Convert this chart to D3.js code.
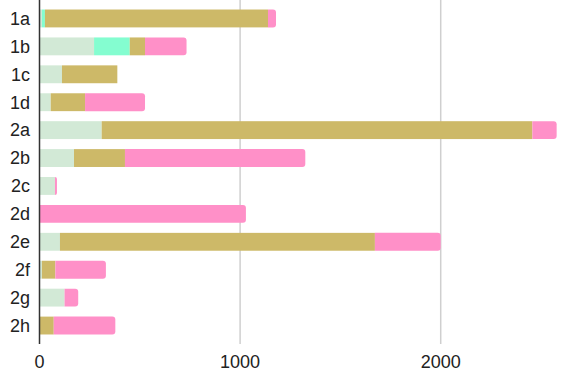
<!DOCTYPE html>
<html><head><meta charset="utf-8">
<script src="https://cdn.jsdelivr.net/npm/d3@7"></script>
<style>body{margin:0;background:#fff;}svg{display:block;}</style>
</head><body>
<script>
const categories = ["1a","1b","1c","1d","2a","2b","2c","2d","2e","2f","2g","2h"];
const seriesNames = ["s1","s2","s3","s4"];
const s1 = [12, 272, 112, 56, 310, 172, 77, 0, 102, 12, 125, 0];
const s2 = [15, 178, 0, 0, 0, 0, 0, 0, 0, 0, 0, 0];
const s3 = [1112, 76, 276, 171, 2147, 254, 0, 0, 1570, 67, 0, 71];
const s4 = [40, 207, 0, 299, 121, 899, 10, 1029, 328, 252, 68, 307];
const colors = ["#d2e9d6", "#84fdd0", "#cdb968", "#ff90c8"];
const tickValues = [0, 1000, 2000];

const W = 571, H = 381;
const svg = d3.select("body").append("svg").attr("width", W).attr("height", H);
const x = d3.scaleLinear().domain([0, 1000]).range([39.5, 240.1]);
const y = d3.scaleBand().domain(categories).range([4.5, 339.5]).paddingInner(0.36).paddingOuter(0.18);

const rows = categories.map((c, i) => ({cat: c, s1: s1[i], s2: s2[i], s3: s3[i], s4: s4[i]}));
const stack = d3.stack().keys(seriesNames)(rows);

// grid
svg.append("g").selectAll("line").data(tickValues.slice(1)).join("line")
  .attr("x1", d => x(d)).attr("x2", d => x(d)).attr("y1", 0).attr("y2", 344)
  .attr("stroke", "#cfcfcf").attr("stroke-width", 1.5);

function roundedRight(x0, y0, w, h, r) {
  r = Math.min(r, w, h / 2);
  return `M${x0},${y0}H${x0 + w - r}Q${x0 + w},${y0} ${x0 + w},${y0 + r}V${y0 + h - r}Q${x0 + w},${y0 + h} ${x0 + w - r},${y0 + h}H${x0}Z`;
}

stack.forEach((layer, li) => {
  const g = svg.append("g").attr("fill", colors[li]);
  const data = layer.filter(d => d[1] - d[0] > 0);
  if (li === seriesNames.length - 1) {
    g.selectAll("path").data(data).join("path")
      .attr("d", d => roundedRight(x(d[0]), y(d.data.cat), x(d[1]) - x(d[0]), y.bandwidth(), 3));
  } else {
    g.selectAll("rect").data(data).join("rect")
      .attr("x", d => x(d[0])).attr("y", d => y(d.data.cat))
      .attr("width", d => x(d[1]) - x(d[0])).attr("height", y.bandwidth());
  }
});

// y axis line
svg.append("line").attr("x1", 39.5).attr("x2", 39.5).attr("y1", 0).attr("y2", 344)
  .attr("stroke", "#333").attr("stroke-width", 1.5);

// y labels
svg.append("g").selectAll("text").data(categories).join("text")
  .attr("x", 30).attr("y", d => y(d) + y.bandwidth() / 2)
  .attr("dy", "0.35em").attr("text-anchor", "end")
  .attr("font-family", "Liberation Sans, Arial, sans-serif").attr("font-size", 18)
  .attr("fill", "#222").text(d => d);

// x tick labels
svg.append("g").selectAll("text").data(tickValues).join("text")
  .attr("x", d => x(d)).attr("y", 362).attr("dy", "0.35em").attr("text-anchor", "middle")
  .attr("font-family", "Liberation Sans, Arial, sans-serif").attr("font-size", 18)
  .attr("fill", "#222").text(d => d3.format("d")(d));
</script>
</body></html>
